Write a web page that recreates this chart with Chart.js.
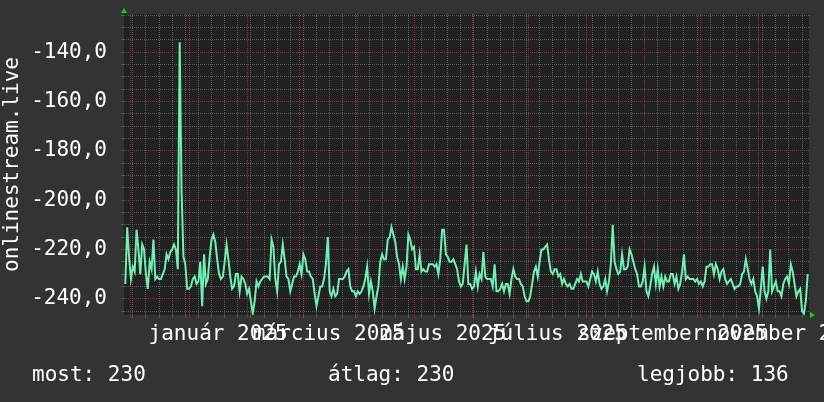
<!DOCTYPE html>
<html>
<head>
<meta charset="utf-8">
<script src="https://cdn.jsdelivr.net/npm/chart.js@4.4.1/dist/chart.umd.min.js"></script>
<style>
  body { margin: 0; background: #333333; }
  #wrap { position: relative; width: 824px; height: 402px; }
  .stat { position: absolute; top: 364px; font: 21px "DejaVu Sans Mono", monospace; line-height: 21px; color: #ffffff; white-space: pre; }
</style>
</head>
<body>
<div id="wrap">
  <canvas id="chart" width="824" height="402"></canvas>
  <div class="stat" style="left:32px">most: 230</div>
  <div class="stat" style="left:328px">átlag: 230</div>
  <div class="stat" style="left:637px">legjobb: 136</div>
</div>
<script>
// days counted from 2024-12-01 (day 0); first value is 2024-11-28
const FIRST_DAY = -3;
const values = [
  -234,-211,-223,-232,-227,-229,-212,-220,-230,-218,
  -220,-230,-236,-225,-228,-216,-232,-231,-232,-232,
  -230,-228,-222,-224,-221,-220,-218,-220,-228,-136,
  -196,-223,-226,-236,-236,-235,-232,-231,-234,-233,
  -225,-243,-222,-234,-232,-223,-216,-214,-217,-224,
  -230,-232,-231,-225,-218,-224,-231,-236,-235,-230,
  -230,-237,-231,-232,-234,-238,-236,-241,-246,-241,
  -233,-235,-233,-232,-231,-231,-231,-232,-216,-219,
  -232,-237,-226,-225,-218,-224,-231,-232,-237,-234,
  -231,-231,-229,-226,-230,-222,-224,-229,-229,-231,
  -232,-238,-243,-239,-235,-235,-232,-226,-215,-237,
  -239,-236,-239,-238,-232,-232,-232,-231,-229,-228,
  -235,-237,-237,-239,-237,-238,-237,-235,-232,-227,
  -238,-233,-237,-244,-239,-235,-225,-222,-224,-224,
  -216,-215,-211,-214,-217,-223,-226,-232,-227,-232,
  -227,-214,-216,-220,-219,-228,-228,-222,-229,-228,
  -229,-229,-226,-226,-226,-227,-226,-230,-224,-212,
  -212,-222,-223,-225,-225,-224,-226,-228,-233,-235,
  -234,-226,-218,-234,-234,-236,-235,-229,-235,-230,
  -232,-221,-231,-232,-232,-232,-235,-226,-237,-237,
  -236,-234,-237,-234,-234,-238,-232,-228,-231,-232,
  -232,-234,-235,-239,-241,-241,-239,-234,-229,-227,
  -231,-225,-220,-220,-219,-218,-224,-229,-230,-228,
  -228,-231,-230,-234,-232,-234,-235,-234,-236,-236,
  -234,-232,-233,-230,-233,-233,-233,-235,-232,-229,
  -230,-233,-229,-234,-236,-235,-232,-237,-233,-226,
  -210,-225,-228,-230,-229,-222,-228,-228,-227,-220,
  -222,-225,-228,-230,-235,-235,-233,-227,-237,-239,
  -235,-230,-227,-234,-228,-235,-231,-235,-231,-233,
  -233,-230,-230,-234,-231,-236,-234,-229,-222,-232,
  -231,-232,-232,-232,-233,-232,-234,-233,-235,-233,
  -227,-227,-226,-226,-230,-226,-228,-232,-229,-228,
  -232,-234,-233,-232,-234,-236,-235,-235,-234,-230,
  -229,-224,-228,-232,-234,-232,-237,-239,-244,-236,
  -227,-237,-240,-237,-220,-237,-235,-233,-237,-237,
  -239,-234,-232,-231,-234,-226,-229,-234,-239,-237,
  -236,-245,-246,-241,-230
];

// month starts (Dec 2024 .. Nov 2025), label positions at mid month
const monthStarts = [0, 31, 62, 90, 121, 151, 182, 212, 243, 274, 304, 335];
const monthLabels = ['január 2025', 'március 2025', 'május 2025', 'július 2025', 'szeptember 2025', 'november 2025'];
const labelDays = [46.5, 105.5, 166.5, 227.5, 289, 350];
const yLabelStep = 20;

const X_MIN = -3.7, X_MAX = 361.7;
const Y_MIN = -246.6, Y_MAX = -124.5;

const MINOR = '#5a5a5a';
const MAJOR = '#7c3434';
const FONT = { family: 'DejaVu Sans Mono', size: 21 };

function xKind(v) {
  if (monthStarts.includes(v)) return 'month';
  if (labelDays.includes(v)) return 'label';
  return 'week';
}

const plotBg = {
  id: 'plotBg',
  beforeDraw(chart) {
    const a = chart.chartArea, ctx = chart.ctx;
    ctx.save();
    ctx.fillStyle = '#212121';
    ctx.fillRect(a.left, a.top, a.right - a.left, a.bottom - a.top);
    ctx.restore();
  },
  afterDraw(chart) {
    const a = chart.chartArea, ctx = chart.ctx;
    ctx.save();
    ctx.fillStyle = '#00dd00';
    ctx.beginPath();
    ctx.moveTo(a.left - 3, a.top - 1);
    ctx.lineTo(a.left + 3, a.top - 1);
    ctx.lineTo(a.left, a.top - 6);
    ctx.fill();
    ctx.beginPath();
    ctx.moveTo(a.right + 1, a.bottom - 3);
    ctx.lineTo(a.right + 1, a.bottom + 3);
    ctx.lineTo(a.right + 6, a.bottom);
    ctx.fill();
    ctx.restore();
  }
};

new Chart(document.getElementById('chart'), {
  type: 'line',
  data: {
    datasets: [{
      data: values.map((v, i) => ({ x: FIRST_DAY + i, y: v })),
      borderColor: '#6ff0b6',
      borderWidth: 2,
      pointRadius: 0,
      tension: 0,
      fill: false
    }]
  },
  options: {
    responsive: false,
    animation: false,
    layout: { padding: { left: 0, right: 15, top: 14, bottom: 47 } },
    plugins: { legend: { display: false }, tooltip: { enabled: false } },
    scales: {
      x: {
        type: 'linear',
        min: X_MIN,
        max: X_MAX,
        afterBuildTicks(scale) {
          const t = new Set(monthStarts);
          for (let d = 1; d <= X_MAX; d += 7) t.add(d);
          labelDays.forEach(d => t.add(d));
          scale.ticks = [...t].sort((a, b) => a - b).map(v => ({ value: v }));
        },
        afterFit(scale) {
          scale.height = 40;
          scale.paddingLeft = 0;
          scale.paddingRight = 0;
        },
        grid: {
          color: c => {
            if (!c.tick) return MINOR;
            const k = xKind(c.tick.value);
            return k === 'month' ? MAJOR : (k === 'label' ? 'rgba(0,0,0,0)' : MINOR);
          },
          lineWidth: 1,
          tickLength: 3
        },
        border: { display: false, dash: c => c.tick ? [1, 1] : [] },
        ticks: {
          autoSkip: false,
          maxRotation: 0,
          minRotation: 0,
          color: '#ffffff',
          font: FONT,
          padding: 4,
          callback: v => {
            const i = labelDays.indexOf(v);
            return i >= 0 ? monthLabels[i] : '';
          }
        }
      },
      y: {
        min: Y_MIN,
        max: Y_MAX,
        afterBuildTicks(scale) {
          const t = [];
          for (let v = -245; v <= -125; v += 5) t.push({ value: v });
          scale.ticks = t;
        },
        afterFit(scale) {
          scale.width = 124;
          scale.paddingTop = 0;
          scale.paddingBottom = 0;
        },
        grid: {
          color: c => (c.tick && c.tick.value % yLabelStep === 0) ? MAJOR : MINOR,
          lineWidth: 1,
          tickLength: 3
        },
        border: { display: false, dash: c => c.tick ? [1, 1] : [] },
        ticks: {
          autoSkip: false,
          color: '#ffffff',
          font: FONT,
          padding: 14,
          callback: v => v % yLabelStep === 0 ? v.toFixed(1).replace('.', ',') : ''
        },
        title: {
          display: true,
          text: 'onlinestream.live',
          color: '#ffffff',
          font: FONT,
          padding: 0
        }
      }
    }
  },
  plugins: [plotBg]
});
</script>
</body>
</html>
